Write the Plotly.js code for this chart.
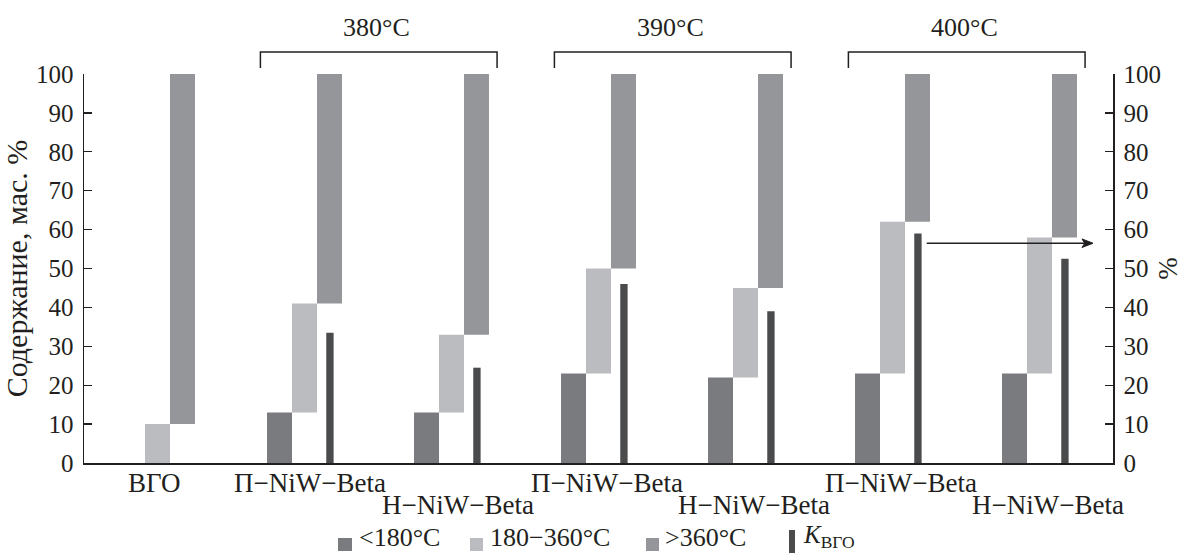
<!DOCTYPE html>
<html>
<head>
<meta charset="utf-8">
<script src="https://cdn.plot.ly/plotly-3.0.1.min.js"></script>
<style>html,body{margin:0;padding:0;background:#fff;}#chart{width:1183px;height:553px;}</style>
</head>
<body>
<div id="chart"></div>
<script>
// ---- data ----
const categories = ['ВГО', 'П−NiW−Beta', 'Н−NiW−Beta', 'П−NiW−Beta', 'Н−NiW−Beta', 'П−NiW−Beta', 'Н−NiW−Beta'];
const temperatureGroups = ['380°C', '390°C', '400°C'];
const groupMembers = [[1, 2], [3, 4], [5, 6]];
const fracBelow180 = [0, 13, 13, 23, 22, 23, 23];      // <180°C, mass %
const frac180to360 = [10, 28, 20, 27, 23, 39, 35];     // 180–360°C, mass %
const fracAbove360 = [90, 59, 67, 50, 55, 38, 42];     // >360°C, mass %
const kVGO = [null, 33.5, 24.5, 46, 39, 59, 52.5];     // K_ВГО, %
const seriesNames = ['<180°C', '180−360°C', '>360°C', '<i>K</i><sub>ВГО</sub>'];

// ---- styles ----
const FONT = "'Liberation Serif', 'Times New Roman', Times, serif";
const TXT = '#231f20';
const colors = ['#7a7b7f', '#bbbcbf', '#95969a', '#4a4b4d'];
const pos = categories.map((_, i) => i);
const BW = 0.17;

const base2 = fracBelow180.slice();
const base3 = fracBelow180.map((v, i) => v + frac180to360[i]);

const traces = [
  {type: 'bar', x: pos, y: fracBelow180, base: 0, width: BW, offset: -1.5 * BW,
   marker: {color: colors[0], line: {width: 0}}, name: seriesNames[0], showlegend: false, hoverinfo: 'skip'},
  {type: 'bar', x: pos, y: frac180to360, base: base2, width: BW, offset: -0.5 * BW,
   marker: {color: colors[1], line: {width: 0}}, name: seriesNames[1], showlegend: false, hoverinfo: 'skip'},
  {type: 'bar', x: pos, y: fracAbove360, base: base3, width: BW, offset: 0.5 * BW,
   marker: {color: colors[2], line: {width: 0}}, name: seriesNames[2], showlegend: false, hoverinfo: 'skip'},
  {type: 'bar', x: pos, y: kVGO, base: 0, width: 0.05, offset: 0.148, yaxis: 'y2',
   marker: {color: colors[3], line: {width: 0}}, name: seriesNames[3], showlegend: false, hoverinfo: 'skip'}
];

// paper helpers (plot area: x 84..1113, y 74..463 px)
const L = 84, R = 1113, T = 74, B = 463;
const px = v => (v - L) / (R - L);
const py = v => (B - v) / (B - T);

const annotations = [];
const shapes = [];

// category labels (staggered)
const labelShift = [-0.027, 0.04, 0.045, 0.055, 0.055, 0.058, 0.058];
categories.forEach((c, i) => {
  const low = (i > 0 && i % 2 === 0);
  annotations.push({text: c, x: i + labelShift[i], xref: 'x', y: py(low ? 505 : 483), yref: 'paper',
    showarrow: false, xanchor: 'center', yanchor: 'middle', font: {family: FONT, size: 27, color: TXT}});
});

// temperature brackets
temperatureGroups.forEach((g, k) => {
  const a = groupMembers[k][0] - 0.3, b = groupMembers[k][1] + 0.31;
  const yt = py(52), yb = py(68);
  shapes.push({type: 'path', xref: 'x', yref: 'paper',
    path: `M ${a},${yb} L ${a},${yt} L ${b},${yt} L ${b},${yb}`,
    line: {color: TXT, width: 1.5}});
  annotations.push({text: g, x: (groupMembers[k][0] + groupMembers[k][1]) / 2 - 0.01, xref: 'x', y: py(27), yref: 'paper',
    showarrow: false, xanchor: 'center', yanchor: 'middle', font: {family: FONT, size: 26, color: TXT}});
});

// arrow toward the right axis (line + head)
const arY = 56.5, arX0 = 5.233, arX1 = 6.364, headLen = 0.075, headH = 1.1;
shapes.push({type: 'line', xref: 'x', yref: 'y', x0: arX0, x1: arX1 - headLen * 0.6, y0: arY, y1: arY,
  line: {color: TXT, width: 1.5}});
shapes.push({type: 'path', xref: 'x', yref: 'y',
  path: `M ${arX1},${arY} L ${arX1 - headLen},${arY + headH} L ${arX1 - headLen * 0.75},${arY} L ${arX1 - headLen},${arY - headH} Z`,
  fillcolor: TXT, line: {color: TXT, width: 1}});

// manual legend
const leg = [
  {sx0: 338, sx1: 352, sy0: 538, sy1: 551, tx: 357},
  {sx0: 470, sx1: 483, sy0: 538, sy1: 551, tx: 488},
  {sx0: 646, sx1: 659, sy0: 538, sy1: 551, tx: 663},
  {sx0: 789, sx1: 795, sy0: 530, sy1: 553, tx: 801}
];
leg.forEach((l, i) => {
  shapes.push({type: 'rect', xref: 'paper', yref: 'paper', x0: px(l.sx0), x1: px(l.sx1), y0: py(l.sy1), y1: py(l.sy0),
    fillcolor: colors[i], line: {width: 0}});
  annotations.push({text: seriesNames[i], x: px(l.tx), xref: 'paper', y: py(554), yref: 'paper',
    showarrow: false, xanchor: 'left', yanchor: 'bottom', font: {family: FONT, size: i === 3 ? 25 : 26, color: TXT}});
});

const axisCommon = {
  range: [0, 100], dtick: 10, tick0: 0, ticks: 'inside', ticklen: 8, tickwidth: 1.3, tickcolor: TXT,
  showline: true, linecolor: TXT, linewidth: 1.5, showgrid: false, zeroline: false,
  tickfont: {family: FONT, size: 25, color: TXT}, ticklabelstandoff: 4, fixedrange: true
};

const layout = {
  width: 1183, height: 553,
  margin: {l: L, r: 1183 - R, t: T, b: 553 - B, pad: 0},
  paper_bgcolor: '#ffffff', plot_bgcolor: '#ffffff',
  barmode: 'overlay',
  showlegend: false,
  font: {family: FONT, color: TXT},
  xaxis: {range: [-0.5, 6.5], showticklabels: false, ticks: '', showline: true, linecolor: TXT, linewidth: 1.5,
    showgrid: false, zeroline: false, fixedrange: true},
  yaxis: Object.assign({}, axisCommon, {title: {text: 'Содержание, мас. %', font: {family: FONT, size: 30, color: TXT}, standoff: 5}}),
  yaxis2: Object.assign({}, axisCommon, {overlaying: 'y', side: 'right', title: {text: '%', font: {family: FONT, size: 27, color: TXT}, standoff: 6}}),
  annotations: annotations,
  shapes: shapes
};

Plotly.newPlot('chart', traces, layout, {displayModeBar: false, staticPlot: true});
</script>
</body>
</html>
